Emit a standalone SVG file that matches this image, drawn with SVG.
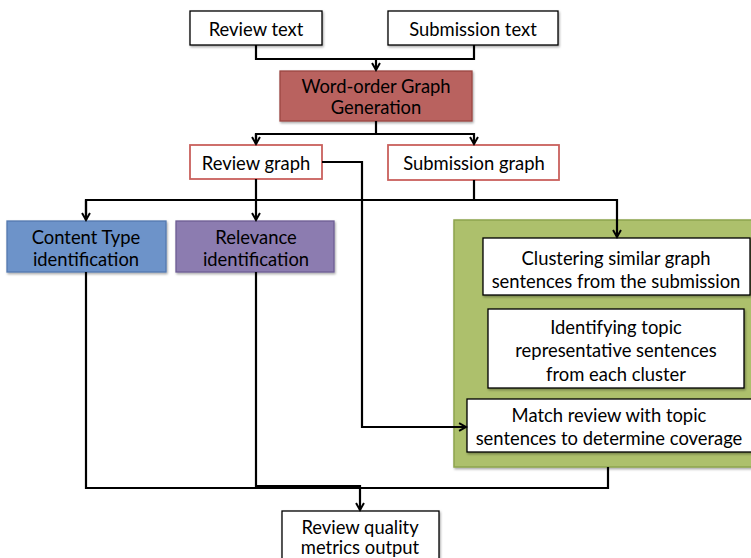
<svg xmlns="http://www.w3.org/2000/svg" width="751" height="558" viewBox="0 0 751 558">
<defs>
<marker id="arr" viewBox="0 0 10 10" refX="8" refY="5" markerWidth="4.5" markerHeight="4.5" orient="auto" markerUnits="strokeWidth">
<path d="M1,1 L8,5 L1,9" fill="none" stroke="#000" stroke-width="2"/>
</marker>
<filter id="sh" x="-10%" y="-10%" width="120%" height="130%">
<feDropShadow dx="1" dy="1.5" stdDeviation="1" flood-color="#000" flood-opacity="0.35"/>
</filter>
</defs>
<style>
text{font-family:Lato,"Open Sans","Liberation Sans",sans-serif;font-size:18.4px;fill:#000;text-anchor:middle}
.w{fill:#fff;stroke:#000;stroke-width:1.3}
.r{fill:#fff;stroke:#c9605c;stroke-width:1.8}
.c{fill:none;stroke:#000;stroke-width:2.2}
</style>
<g id="review-text"><rect class="w" x="190" y="11" width="132" height="34" filter="url(#sh)"/><text x="256" y="35.5">Review text</text></g>
<g id="submission-text"><rect class="w" x="388" y="11" width="170" height="34" filter="url(#sh)"/><text x="473" y="35.5">Submission text</text></g>
<g id="word-order"><rect x="280" y="71" width="192" height="50" fill="#b9625e" stroke="#9a4743" stroke-width="1.3" filter="url(#sh)"/><text x="376" y="93">Word-order Graph</text><text x="376" y="113.5">Generation</text></g>
<g id="review-graph"><rect class="r" x="190" y="145" width="132" height="34"/><text x="256" y="170">Review graph</text></g>
<g id="submission-graph"><rect class="r" x="388" y="145" width="171" height="35"/><text x="474" y="170">Submission graph</text></g>
<g id="content-type"><rect x="7" y="221" width="159" height="51" fill="#6d93c9" stroke="#5479b0" stroke-width="1.3" filter="url(#sh)"/><text x="86" y="243.5">Content Type</text><text x="86" y="265.5">identification</text></g>
<g id="relevance"><rect x="176" y="221" width="158" height="51" fill="#8c7bb0" stroke="#6e5d94" stroke-width="1.3" filter="url(#sh)"/><text x="256" y="243.5">Relevance</text><text x="256" y="265.5">identification</text></g>
<g id="green-container"><rect x="454" y="220" width="300" height="247" fill="#adc06c" stroke="#8da44d" stroke-width="1.5" filter="url(#sh)"/></g>
<g id="clustering"><rect class="w" x="483" y="238" width="267" height="57" filter="url(#sh)"/><text x="616" y="265">Clustering similar graph</text><text x="616" y="287.5">sentences from the submission</text></g>
<g id="identifying"><rect class="w" x="488" y="309" width="256" height="79" filter="url(#sh)"/><text x="616" y="333.5">Identifying topic</text><text x="616" y="357">representative sentences</text><text x="616" y="380.5">from each cluster</text></g>
<g id="match"><rect class="w" x="467" y="399" width="286" height="53" filter="url(#sh)"/><text x="609" y="422">Match review with topic</text><text x="609" y="445">sentences to determine coverage</text></g>
<g id="output"><rect class="w" x="282" y="511" width="157" height="52" filter="url(#sh)"/><text x="360" y="533.5">Review quality</text><text x="360" y="554">metrics output</text></g>
<g id="connectors">
<path class="c" d="M256,45 V59 H474 V45"/>
<path class="c" d="M376,59 V70" marker-end="url(#arr)"/>
<path class="c" d="M376,121 V134"/>
<path class="c" d="M256,144 V134 H474 V144" marker-end="url(#arr)"/>
<path class="c" d="M256,134 V144" marker-end="url(#arr)"/>
<path class="c" d="M256,179 V220" marker-end="url(#arr)"/>
<path class="c" d="M86,220 V200 H617 V237" marker-end="url(#arr)"/>
<path class="c" d="M86,200 V220" marker-end="url(#arr)"/>
<path class="c" d="M474,180 V200"/>
<path class="c" d="M322,162 H362 V427 H466" marker-end="url(#arr)"/>
<path class="c" d="M86,272 V488 H608 V467"/>
<path class="c" d="M256,272 V486 H360 V510" marker-end="url(#arr)"/>
</g>
</svg>
